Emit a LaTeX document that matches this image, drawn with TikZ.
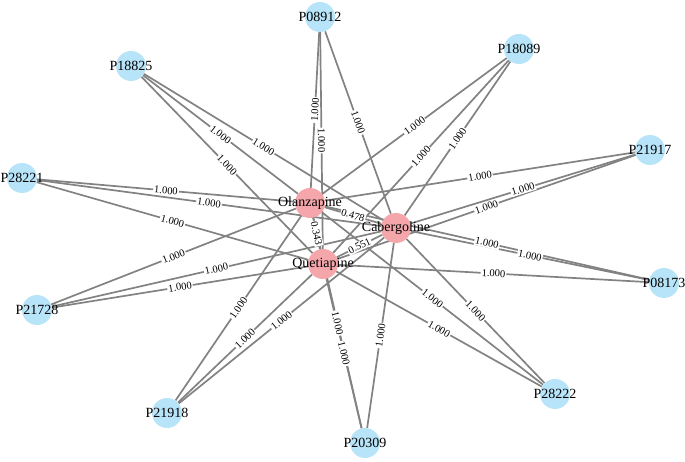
\documentclass[tikz,border=0pt]{standalone}
\usepackage{fontspec}
\setmainfont{Liberation Serif}
\usetikzlibrary{backgrounds}
\definecolor{protblue}{RGB}{183,228,248}
\definecolor{drugpink}{RGB}{244,166,170}
\definecolor{linkgray}{RGB}{130,130,130}
\tikzset{
  prot/.style={circle, fill=protblue, minimum size=30pt, inner sep=0pt},
  drug/.style={circle, fill=drugpink, minimum size=30pt, inner sep=0pt},
  every label/.style={font=\fontsize{14}{15}\selectfont, inner sep=0pt},
  link/.style={draw=linkgray, line width=1.7pt},
  wlabel/.style={sloped, fill=white, inner sep=1pt, font=\fontsize{10.5}{11}\selectfont},
}
\begin{document}
\begin{tikzpicture}[x=1pt,y=-1pt]
\useasboundingbox (0,0) rectangle (685,462);

% drugs
\node[drug, label=center:Olanzapine] (olz) at (310,203) {};
\node[drug, label=center:Cabergoline] (cab) at (396,228) {};
\node[drug, label=center:Quetiapine] (que) at (323,264) {};

% targets
\foreach \p/\x/\y in {P08912/320/17, P18089/519/49, P18825/131/66, P21917/650/150,
    P28221/22/178, P08173/664/283, P21728/37/310, P28222/555/394,
    P21918/167/413, P20309/365/443}
  \node[prot, label=center:\p] (\p) at (\x,\y) {};

\begin{scope}[on background layer]
  \foreach \p in {P08912,P18089,P18825,P21917,P28221,P08173,P21728,P28222,P21918,P20309}
    \foreach \d in {olz,cab,que}
      \draw[link] (\p) -- (\d);
  \draw[link] (olz) -- (cab);
  \draw[link] (cab) -- (que);
  \draw[link] (olz) -- (que);
  % weights
  \foreach \p in {P08912,P18089,P18825,P21917,P28221,P08173,P21728,P28222,P21918,P20309}
    \foreach \d in {olz,cab,que}
      \path (\p) -- node[wlabel] {1.000} (\d);
  \path (olz) -- node[wlabel] {0.478} (cab);
  \path (cab) -- node[wlabel] {0.551} (que);
  \path (olz) -- node[wlabel] {0.343} (que);
\end{scope}
\end{tikzpicture}
\end{document}
